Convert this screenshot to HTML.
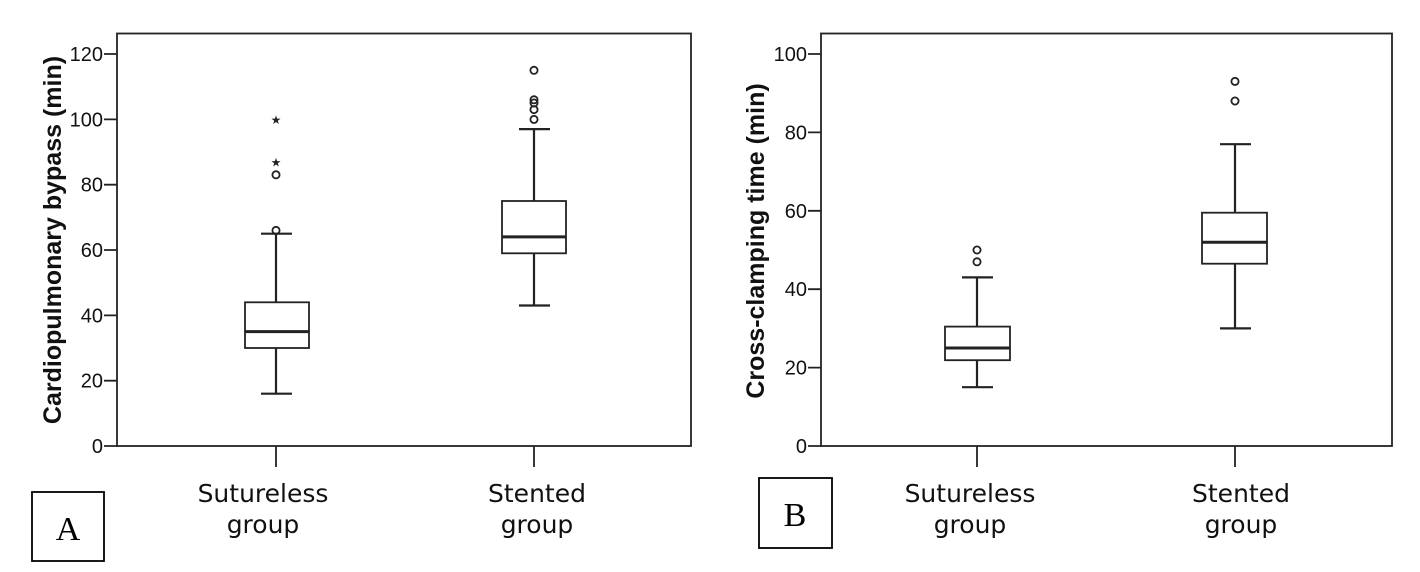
<!DOCTYPE html>
<html><head><meta charset="utf-8"><style>
html,body{margin:0;padding:0;background:#fff;}
svg{display:block;}
.t{font-family:"Liberation Sans",Arial,sans-serif;font-size:20px;fill:#111;}
.yl{font-family:"Liberation Sans",Arial,sans-serif;font-size:25px;font-weight:bold;fill:#111;}
.xl{font-family:"DejaVu Sans","Liberation Sans",sans-serif;font-size:25px;fill:#111;}
.L{font-family:"Liberation Serif",serif;font-size:34px;fill:#000;}
</style></head><body>
<svg width="1420" height="572" viewBox="0 0 1420 572" xmlns="http://www.w3.org/2000/svg">
<g stroke="#222" fill="none" stroke-width="1.8">
<rect x="117" y="33.5" width="574" height="412.5"/>
<path d="M104 446H117M104 380.7H117M104 315.4H117M104 250H117M104 184.7H117M104 119.4H117M104 54H117"/>
<path d="M276 446V467M534 446V467"/>
<path d="M276 393.7V348M276 302.3V233.7M261 393.7H292M261 233.7H292" stroke-width="2.2"/>
<rect x="245" y="302.3" width="64" height="45.7"/>
<path d="M245 331.6H309" stroke-width="3"/>
<circle cx="276" cy="230.4" r="3.6"/>
<circle cx="276" cy="174.8" r="3.6"/>
<path d="M534 305.5V253.3M534 201V129.1M519 305.5H550M519 129.1H550" stroke-width="2.2"/>
<rect x="502" y="201" width="64" height="52.3"/>
<path d="M502 236.9H566" stroke-width="3"/>
<circle cx="534" cy="119.4" r="3.6"/>
<circle cx="534" cy="109.6" r="3.6"/>
<circle cx="534" cy="103" r="3.6"/>
<circle cx="534" cy="99.8" r="3.6"/>
<circle cx="534" cy="70.3" r="3.6"/>

<rect x="821" y="33.5" width="571" height="412.5"/>
<path d="M808 446H821M808 367.6H821M808 289.2H821M808 210.8H821M808 132.4H821M808 54H821"/>
<path d="M977 446V467M1235 446V467"/>
<path d="M977 387.2V360.2M977 326.6V277.4M962 387.2H993M962 277.4H993" stroke-width="2.2"/>
<rect x="945" y="326.6" width="65" height="33.6"/>
<path d="M945 348H1010" stroke-width="3"/>
<circle cx="977" cy="261.8" r="3.6"/>
<circle cx="977" cy="250" r="3.6"/>
<path d="M1235 328.4V263.7M1235 212.7V144.2M1220 328.4H1251M1220 144.2H1251" stroke-width="2.2"/>
<rect x="1202" y="212.7" width="65" height="51"/>
<path d="M1202 242.2H1267" stroke-width="3"/>
<circle cx="1235" cy="101" r="3.6"/>
<circle cx="1235" cy="81.4" r="3.6"/>
</g>
<g font-family="DejaVu Sans,sans-serif" font-size="12" fill="#222" text-anchor="middle">
<text x="276" y="124">★</text>
<text x="276" y="166.5">★</text>
</g>
<g class="t" text-anchor="end">
<text x="103" y="453">0</text>
<text x="103" y="387.7">20</text>
<text x="103" y="322.4">40</text>
<text x="103" y="257">60</text>
<text x="103" y="191.7">80</text>
<text x="103" y="126.4">100</text>
<text x="103" y="61">120</text>
<text x="807" y="453">0</text>
<text x="807" y="374.6">20</text>
<text x="807" y="296.2">40</text>
<text x="807" y="217.8">60</text>
<text x="807" y="139.4">80</text>
<text x="807" y="61">100</text>
</g>
<text class="yl" transform="translate(61,240) rotate(-90)" text-anchor="middle">Cardiopulmonary bypass (min)</text>
<text class="yl" transform="translate(764,241) rotate(-90)" text-anchor="middle">Cross-clamping time (min)</text>
<g class="xl" text-anchor="middle">
<text x="263" y="502">Sutureless</text>
<text x="263" y="533">group</text>
<text x="537" y="502">Stented</text>
<text x="537" y="533">group</text>
<text x="970" y="502">Sutureless</text>
<text x="970" y="533">group</text>
<text x="1241" y="502">Stented</text>
<text x="1241" y="533">group</text>
</g>
<rect x="32" y="492" width="72" height="69" fill="none" stroke="#000" stroke-width="1.8"/>
<text class="L" x="68" y="540" text-anchor="middle">A</text>
<rect x="759" y="478" width="73" height="70" fill="none" stroke="#000" stroke-width="1.8"/>
<text class="L" x="795" y="526" text-anchor="middle">B</text>
</svg>
</body></html>
